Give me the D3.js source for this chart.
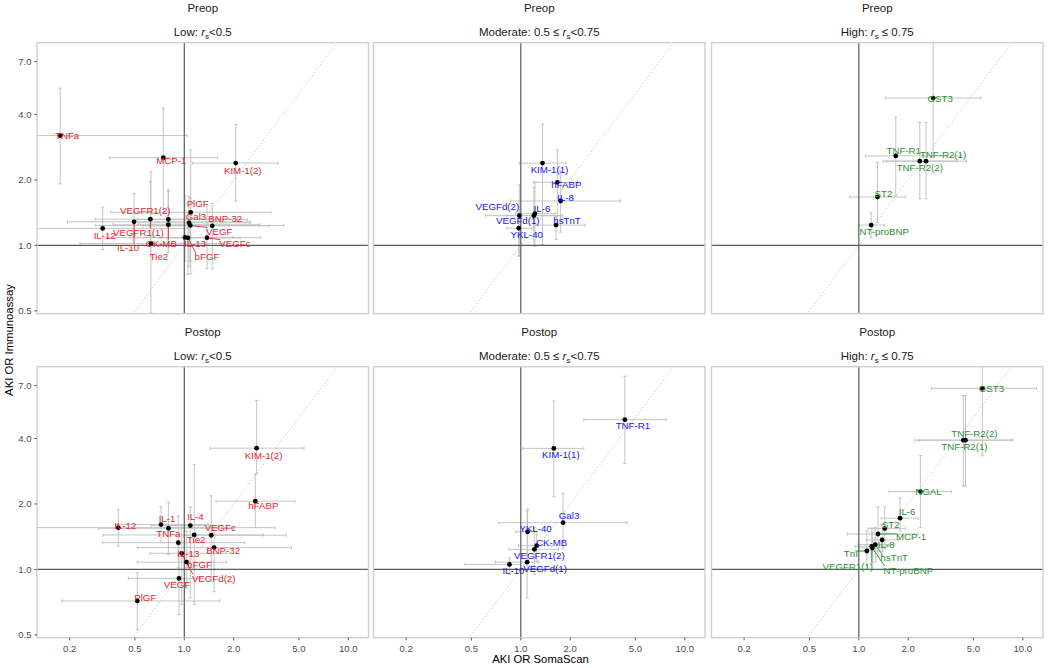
<!DOCTYPE html>
<html><head><meta charset="utf-8">
<script src="https://cdn.jsdelivr.net/npm/d3@7"></script>
<style>body{margin:0;background:#fff} text{font-family:"Liberation Sans",Arial,sans-serif}</style>
</head><body><svg id="c" width="1050" height="668"></svg>
<script>
// rows: [marker, OR SomaScan, lo, hi, OR Immunoassay, lo, hi]
const preopLow = [
 ["TNFa",0.175,0.12,1.04,3.20,1.92,5.29],
 ["MCP-1",0.745,0.349,1.59,2.53,1.42,4.28],
 ["KIM-1(2)",2.06,1.12,3.74,2.39,1.60,3.60],
 ["PlGF",1.094,0.356,3.37,1.42,0.74,2.75],
 ["Gal3",1.068,0.525,2.52,1.27,0.80,1.68],
 ["VEGF",1.088,0.286,4.05,1.235,0.847,1.65],
 ["BNP-32",1.48,0.56,3.3,1.23,0.78,1.56],
 ["VEGFc",1.375,0.71,2.92,1.085,0.78,1.54],
 ["IL-13",1.01,0.337,1.99,1.088,0.845,1.69],
 ["bFGF",1.053,0.467,2.19,1.084,0.736,1.42],
 ["IL-12",0.318,0.12,1.05,1.197,0.958,1.50],
 ["IL-10",0.494,0.194,2.52,1.284,1.10,1.73],
 ["VEGFR1(1)",0.621,0.286,2.11,1.32,0.894,1.97],
 ["VEGFR1(2)",0.799,0.517,2.42,1.316,0.926,1.81],
 ["CK-MB",0.799,0.367,2.89,1.245,0.98,1.77],
 ["Tie2",0.626,0.231,1.72,1.021,0.49,2.18]
];
const preopModerate = [
 ["KIM-1(1)",1.356,0.98,1.89,2.39,1.01,3.61],
 ["hFABP",1.67,1.2,2.22,1.95,1.25,2.75],
 ["IL-8",1.75,0.865,4.05,1.60,1.15,2.2],
 ["IL-6",1.22,0.93,1.62,1.40,0.99,1.95],
 ["VEGFd(1)",1.20,0.82,1.75,1.37,1.0,1.85],
 ["VEGFd(2)",0.98,0.61,1.79,1.37,0.893,1.90],
 ["YKL-40",0.972,0.825,1.17,1.2,0.893,1.46],
 ["hsTnT",1.64,1.2,2.47,1.24,1.065,1.36]
];
const preopHigh = [
 ["GST3",2.84,1.45,5.54,4.76,2.57,9.5],
 ["TNF-R1",1.68,1.097,4.23,2.58,1.70,3.89],
 ["TNF-R2(2)",2.355,1.41,3.99,2.44,1.64,3.68],
 ["TNF-R2(1)",2.57,1.47,4.53,2.44,1.64,3.68],
 ["ST2",1.30,0.88,1.92,1.67,1.27,2.40],
 ["NT-proBNP",1.19,1.01,1.44,1.24,1.085,1.41]
];
const postopLow = [
 ["KIM-1(2)",2.76,1.435,5.37,3.61,2.75,5.99],
 ["hFABP",2.71,1.56,4.73,2.06,1.556,2.75],
 ["IL-12",0.396,0.12,3.57,1.556,1.28,1.89],
 ["IL-1",0.721,0.38,1.40,1.607,1.33,1.94],
 ["TNFa",0.80,0.30,2.0,1.546,1.17,2.03],
 ["IL-4",1.088,0.627,1.69,1.59,0.74,1.94],
 ["Tie2",1.15,0.32,3.03,1.44,0.69,3.03],
 ["VEGFc",1.46,0.99,4.2,1.436,0.915,2.18],
 ["IL-13",0.919,0.318,2.34,1.327,1.017,1.76],
 ["BNP-32",1.52,0.517,4.51,1.26,0.79,1.556],
 ["VEGFd(2)",0.964,0.618,1.81,1.186,0.69,1.61],
 ["bFGF",1.034,0.517,1.81,1.08,0.82,1.50],
 ["VEGF",0.928,0.456,1.25,0.909,0.62,1.30],
 ["PlGF",0.517,0.179,1.65,0.716,0.528,0.965]
];
const postopModerate = [
 ["TNF-R1",4.31,2.42,7.69,4.88,3.07,7.73],
 ["KIM-1(1)",1.59,1.03,2.42,3.60,2.16,5.95],
 ["Gal3",1.81,0.734,4.45,1.64,1.24,2.24],
 ["YKL-40",1.10,0.93,1.26,1.49,1.17,1.90],
 ["CK-MB",1.25,0.97,1.55,1.285,1.09,1.45],
 ["VEGFR1(2)",1.21,0.845,1.70,1.237,0.95,1.556],
 ["IL-10",0.853,0.456,0.996,1.054,0.95,1.13],
 ["VEGFd(1)",1.093,0.70,1.29,1.08,0.74,1.86]
];
const postopHigh = [
 ["GST3",5.67,2.77,12.1,6.80,3.33,10],
 ["TNF-R2(2)",4.34,2.19,8.5,3.93,2.42,6.3],
 ["TNF-R2(1)",4.47,2.3,8.7,3.93,2.42,6.3],
 ["NGAL",2.375,1.53,3.67,2.28,1.556,3.34],
 ["IL-6",1.786,1.37,2.30,1.72,1.50,2.13],
 ["ST2",1.44,1.14,1.92,1.54,1.30,1.94],
 ["MCP-1",1.31,0.85,2.30,1.455,1.15,1.94],
 ["IL-8",1.387,1.11,1.74,1.366,1.15,1.61],
 ["hsTnT",1.26,0.99,1.66,1.30,1.08,1.56],
 ["VEGFR1(1)",1.20,0.95,1.5,1.277,1.05,1.55],
 ["NT-proBNP",1.21,1.0,1.45,1.254,1.07,1.48],
 ["TnI",1.12,0.95,1.40,1.215,1.0,1.50]
];
const xTicks = [0.2,0.5,1,2,5,10];
const xTickLabels = ["0.2","0.5","1.0","2.0","5.0","10.0"];
const yTicks = [0.5,1,2,4,7];
const yTickLabels = ["0.5","1.0","2.0","4.0","7.0"];
const timepoints = ["Preop","Postop"];
const groups = ["Low","Moderate","High"];

// label placement (pixel nudges, [dx, dy, drawSegment])
const nudges = {
 preopLow:{"TNFa":[7,0],"MCP-1":[8,3],"KIM-1(2)":[7,7],"PlGF":[7,-9],"Gal3":[7,-6],"BNP-32":[13,-7],"VEGF":[29,6,1],"VEGFc":[28,6,1],"IL-13":[10,6],"bFGF":[19,19,1],"IL-12":[2,7],"IL-10":[-6,26,1],"VEGFR1(1)":[-12,13,1],"VEGFR1(2)":[-23,-9],"CK-MB":[-7,19,1],"Tie2":[8,13]},
 preopModerate:{"KIM-1(1)":[7,6],"hFABP":[9,2],"IL-8":[5,-3],"IL-6":[7,-5],"VEGFd(2)":[-22,-9],"VEGFd(1)":[-16,5],"YKL-40":[8,6],"hsTnT":[11,-5]},
 preopHigh:{"GST3":[7,0],"TNF-R1":[8,-5],"TNF-R2(1)":[17,-7],"TNF-R2(2)":[0,6],"ST2":[6,-3],"NT-proBNP":[13,6]},
 postopLow:{"KIM-1(2)":[7,7],"hFABP":[8,4],"IL-12":[7,-2],"IL-1":[6,-6],"IL-4":[5,-9],"TNFa":[0,5],"Tie2":[2,5],"VEGFc":[9,-8],"BNP-32":[9,3],"IL-13":[10,11],"bFGF":[13,2,1],"VEGFd(2)":[32,25,1],"VEGF":[-2,6],"PlGF":[8,-3]},
 postopModerate:{"TNF-R1":[8,6],"KIM-1(1)":[7,6],"Gal3":[6,-7],"YKL-40":[8,-3],"CK-MB":[15,-3],"VEGFR1(2)":[5,6],"IL-10":[4,6],"VEGFd(1)":[18,6]},
 postopHigh:{"GST3":[9,0],"TNF-R2(2)":[11,-7],"TNF-R2(1)":[-1,6],"NGAL":[8,0],"IL-6":[7,-7],"ST2":[6,-4],"MCP-1":[33,3,1],"IL-8":[4,5],"hsTnT":[19,13,1],"TnI":[-16,3,1],"VEGFR1(1)":[-24,20,1],"NT-proBNP":[36,22,1]}
};

const panelData = [
 {key:"preopLow",rows:preopLow,r:0,c:0},
 {key:"preopModerate",rows:preopModerate,r:0,c:1},
 {key:"preopHigh",rows:preopHigh,r:0,c:2},
 {key:"postopLow",rows:postopLow,r:1,c:0},
 {key:"postopModerate",rows:postopModerate,r:1,c:1},
 {key:"postopHigh",rows:postopHigh,r:1,c:2}
];
const groupColor = ["#E3262B","#1414F5","#2A9130"];

const svg = d3.select("#c");
const colLeft = [37,373.5,711.5], rowTop = [42.7,366.7];
const W = 331.5, H = 271;
const x = d3.scaleLog().domain([Math.pow(10,-0.898),Math.pow(10,1.123)]).range([0,W]);
const y = d3.scaleLog().domain([Math.pow(10,-0.314),Math.pow(10,0.932)]).range([H,0]);

function stripSub(g, c){
  const t = g.append("text").attr("x",W/2).attr("y",-7).attr("text-anchor","middle")
    .attr("font-size",11.5).attr("fill","#1a1a1a");
  if(c===0){ t.append("tspan").text("Low: "); }
  else if(c===1){ t.append("tspan").text("Moderate: 0.5 \u2264 "); }
  else { t.append("tspan").text("High: "); }
  t.append("tspan").attr("font-style","italic").text("r");
  t.append("tspan").attr("font-size",8).attr("dy",3).text("s");
  if(c===0) t.append("tspan").attr("dy",-3).text("<0.5");
  else if(c===1) t.append("tspan").attr("dy",-3).text("<0.75");
  else t.append("tspan").attr("dy",-3).text(" \u2264 0.75");
}

panelData.forEach((p,i)=>{
  const g = svg.append("g").attr("transform",`translate(${colLeft[p.c]},${rowTop[p.r]})`);
  const cid = "clip"+i;
  g.append("clipPath").attr("id",cid).append("rect").attr("width",W).attr("height",H);
  g.append("text").attr("x",W/2).attr("y",-30.5).attr("text-anchor","middle")
    .attr("font-size",11.5).attr("fill","#1a1a1a").text(timepoints[p.r]);
  stripSub(g,p.c);
  const plot = g.append("g").attr("clip-path",`url(#${cid})`);
  plot.append("line").attr("x1",x(0.48)).attr("y1",y(0.48)).attr("x2",x(20)).attr("y2",y(20))
    .attr("stroke","#bdbdbd").attr("stroke-width",0.9).attr("stroke-dasharray","1.2,2.2");
  const cap = 1.6;
  const eb = plot.append("g").attr("stroke","#bebebe").attr("stroke-width",0.9).attr("fill","none");
  p.rows.forEach(d=>{
    const px=x(d[1]), py=y(d[4]);
    eb.append("line").attr("x1",x(d[2])).attr("x2",x(d[3])).attr("y1",py).attr("y2",py);
    eb.append("line").attr("x1",x(d[2])).attr("x2",x(d[2])).attr("y1",py-cap).attr("y2",py+cap);
    eb.append("line").attr("x1",x(d[3])).attr("x2",x(d[3])).attr("y1",py-cap).attr("y2",py+cap);
    eb.append("line").attr("y1",y(d[5])).attr("y2",y(d[6])).attr("x1",px).attr("x2",px);
    eb.append("line").attr("y1",y(d[5])).attr("y2",y(d[5])).attr("x1",px-cap).attr("x2",px+cap);
    eb.append("line").attr("y1",y(d[6])).attr("y2",y(d[6])).attr("x1",px-cap).attr("x2",px+cap);
  });
  plot.append("line").attr("x1",x(1)).attr("x2",x(1)).attr("y1",0).attr("y2",H).attr("stroke","#5a5a5a").attr("stroke-width",1.2);
  plot.append("line").attr("y1",y(1)).attr("y2",y(1)).attr("x1",0).attr("x2",W).attr("stroke","#5a5a5a").attr("stroke-width",1.2);
  const col = groupColor[p.c];
  const segG = plot.append("g");
  const ptG = plot.append("g");
  const labG = plot.append("g");
  p.rows.forEach(d=>{
    const px=x(d[1]), py=y(d[4]);
    const n = nudges[p.key][d[0]] || [6,0];
    const t = labG.append("text").attr("x",px+n[0]).attr("y",py+n[1]).attr("dy","0.36em")
      .attr("text-anchor","middle").attr("font-size",9.7).attr("fill",col).text(d[0]);
    if(n[2]){
      const b = t.node().getBBox();
      const bx0=b.x+1, bx1=b.x+b.width-1, by0=b.y+1.5, by1=b.y+b.height-1.5;
      const ex = Math.max(bx0, Math.min(px, bx1));
      const ey = Math.max(by0, Math.min(py, by1));
      segG.append("line").attr("x1",px).attr("y1",py).attr("x2",ex).attr("y2",ey)
        .attr("stroke",col).attr("stroke-width",0.9);
    }
    ptG.append("circle").attr("cx",px).attr("cy",py).attr("r",2.4).attr("fill","#000");
  });
  g.append("rect").attr("width",W).attr("height",H).attr("fill","none").attr("stroke","#cfcfcf").attr("stroke-width",1.4);
  if(p.c===0){
    const ax = g.append("g");
    yTicks.forEach((v,k)=>{
      ax.append("line").attr("x1",-2.7).attr("x2",0).attr("y1",y(v)).attr("y2",y(v)).attr("stroke","#4d4d4d").attr("stroke-width",0.9);
      ax.append("text").attr("x",-5.5).attr("y",y(v)).attr("dy","0.35em").attr("text-anchor","end")
        .attr("font-size",9.5).attr("fill","#4d4d4d").text(yTickLabels[k]);
    });
  }
  if(p.r===1){
    const ax = g.append("g");
    xTicks.forEach((v,k)=>{
      ax.append("line").attr("y1",H).attr("y2",H+2.7).attr("x1",x(v)).attr("x2",x(v)).attr("stroke","#4d4d4d").attr("stroke-width",0.9);
      ax.append("text").attr("x",x(v)).attr("y",H+10.5).attr("dy","0.35em").attr("text-anchor","middle")
        .attr("font-size",9.5).attr("fill","#4d4d4d").text(xTickLabels[k]);
    });
  }
});
svg.append("text").attr("x",540.5).attr("y",663).attr("text-anchor","middle").attr("font-size",11.3).attr("fill","#000").text("AKI OR SomaScan");
svg.append("text").attr("transform","translate(13,340) rotate(-90)").attr("text-anchor","middle").attr("font-size",11.3).attr("fill","#000").text("AKI OR Immunoassay");
</script></body></html>
